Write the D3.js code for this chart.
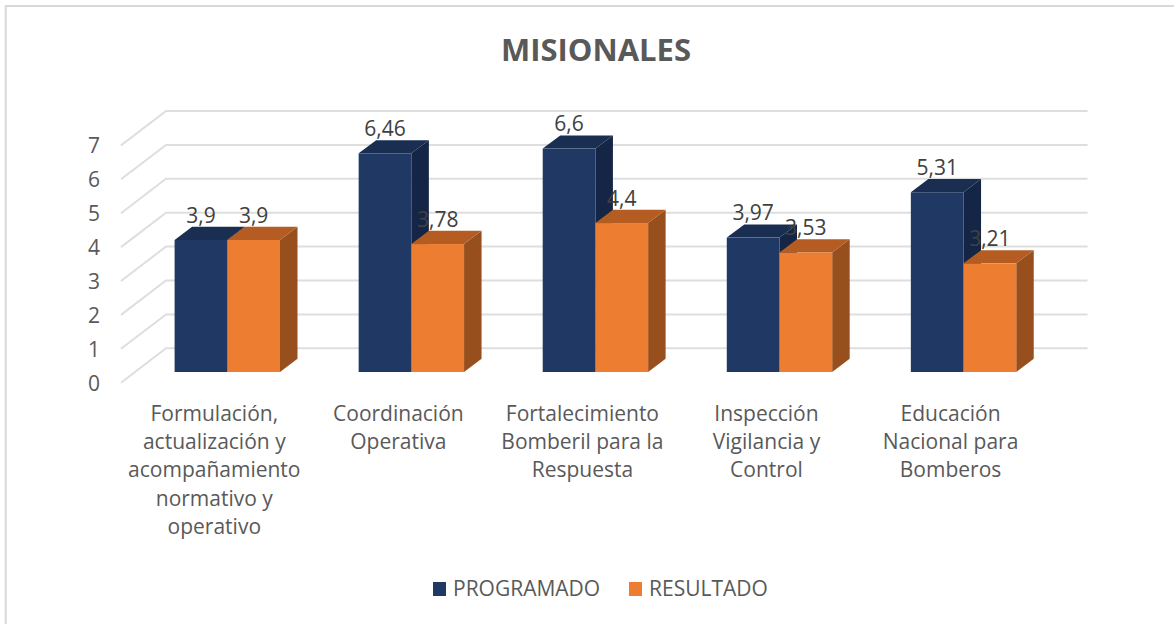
<!DOCTYPE html>
<html><head><meta charset="utf-8">
<script src="https://cdn.jsdelivr.net/npm/d3@7/dist/d3.min.js"></script>
<style>html,body{margin:0;padding:0;background:#fff}svg{display:block}text{font-family:"Open Sans","Noto Sans",sans-serif}</style>
</head><body><svg id="c" width="1174" height="624"></svg>
<script>
const categories = [
  ["Formulación,","actualización y","acompañamiento","normativo y","operativo"],
  ["Coordinación","Operativa"],
  ["Fortalecimiento","Bomberil para la","Respuesta"],
  ["Inspección","Vigilancia y","Control"],
  ["Educación","Nacional para","Bomberos"]
];
const seriesNames = ["PROGRAMADO","RESULTADO"];
const programado = [3.9,6.46,6.6,3.97,5.31];
const resultado = [3.9,3.78,4.4,3.53,3.21];
const yTicks = [0,1,2,3,4,5,6,7];
const seriesValues = [programado,resultado];
const colors = [
  {front:"#1F3864",top:"#1A2E52",side:"#152545"},
  {front:"#ED7D31",top:"#B45C22",side:"#964F1D"}
];
const svg = d3.select("#c");
const fmt = v => String(v).replace(".",",");
const idx = categories.map((_,i)=>i);
const unit = 33.9;
const yFront = d3.scaleLinear().domain([0,7]).range([382.7,382.7-7*unit]);
const yBack  = d3.scaleLinear().domain([0,7]).range([348.3,348.3-7*unit]);
const x0 = d3.scaleBand().domain(idx).range([166,1086.3]);
const x1 = d3.scaleBand().domain([0,1]).range([0,105.4]);
const barY = d3.scaleLinear().domain([0,7]).range([372,372-7*33.85]);
const groupOff = 8.6, dx = 17.5, dy = 13.2;

// frame
svg.append("rect").attr("x",5.7).attr("y",6).attr("width",1200).attr("height",700).attr("fill","#fff").attr("stroke","#D9D9D9").attr("stroke-width",2);

// title
svg.append("text").attr("x",596).attr("y",61).attr("text-anchor","middle")
  .attr("font-size",31).attr("font-weight",700).attr("fill","#595959").text("MISIONALES");

// gridlines
const grid = svg.append("g").attr("fill","none").attr("stroke","#DEDEDE").attr("stroke-width",2);
grid.selectAll("path").data(yTicks).join("path")
  .attr("d",t=>`M121,${yFront(t)}L166,${yBack(t)}L1087.5,${yBack(t)}`);

// y tick labels
svg.append("g").selectAll("text").data(yTicks).join("text")
  .attr("x",94).attr("y",t=>yFront(t)+8).attr("text-anchor","middle")
  .attr("font-size",21).attr("fill","#595959").text(t=>t);

// bars
const bars = svg.append("g");
idx.forEach(i=>{
  [0,1].forEach(s=>{
    const v = seriesValues[s][i], c = colors[s];
    const x = x0(i)+groupOff+x1(s), w = x1.bandwidth(), y = barY(v), b = barY(0);
    const g = bars.append("g");
    g.append("path").attr("fill",c.side).attr("d",`M${x+w},${y}L${x+w+dx},${y-dy}L${x+w+dx},${b-dy}L${x+w},${b}Z`);
    g.append("path").attr("fill",c.top).attr("d",`M${x},${y}L${x+dx},${y-dy}L${x+w+dx},${y-dy}L${x+w},${y}Z`);
    g.append("rect").attr("x",x).attr("y",y).attr("width",w).attr("height",b-y).attr("fill",c.front);
  });
});

// data labels
const labels = svg.append("g");
idx.forEach(i=>{
  [0,1].forEach(s=>{
    const v = seriesValues[s][i];
    labels.append("text")
      .attr("x",x0(i)+groupOff+x1(s)+x1.bandwidth()/2)
      .attr("y",barY(v)-dy-4)
      .attr("text-anchor","middle").attr("font-size",21).attr("fill","#404040").text(fmt(v));
  });
});

// category labels
const cat = svg.append("g");
idx.forEach(i=>{
  const t = cat.append("text").attr("text-anchor","middle").attr("font-size",21).attr("fill","#595959");
  categories[i].forEach((l,k)=>{
    t.append("tspan").attr("x",x0(i)+groupOff+x1.bandwidth()-13).attr("y",421+k*28.2).text(l);
  });
});

// legend
const legendX = [433,629], legendTextX=[453,649];
seriesNames.forEach((n,s)=>{
  svg.append("rect").attr("x",legendX[s]).attr("y",582).attr("width",13).attr("height",14).attr("fill",colors[s].front);
  svg.append("text").attr("x",legendTextX[s]).attr("y",596).attr("font-size",21).attr("fill","#595959").text(n);
});
</script></body></html>
